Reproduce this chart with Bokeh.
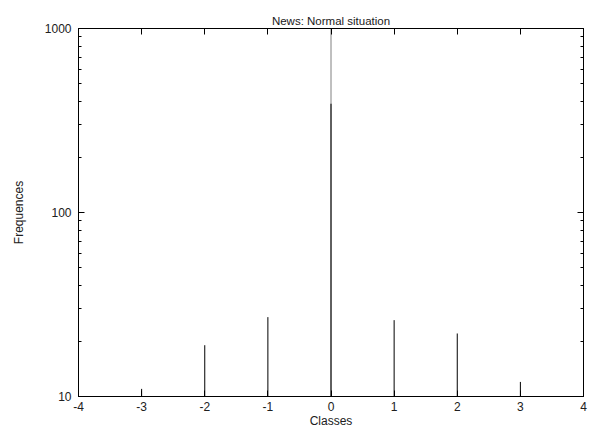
from bokeh.plotting import figure
from bokeh.models import FixedTicker, LinearAxis, LogAxis, Span
from bokeh.embed import file_html
from bokeh.resources import INLINE

classes = [-3, -2, -1, 0, 1, 2, 3]
frequences = [11, 19, 27, 390, 26, 22, 12]
x_ticks = [-4, -3, -2, -1, 0, 1, 2, 3, 4]
y_major = [10, 100, 1000]
y_minor = [m * 10 ** d for d in (1, 2) for m in range(2, 10)]

FONT = "Liberation Sans"
FS = "12px"

p = figure(width=590, height=433, output_backend="svg", toolbar_location=None,
           x_range=(-4, 4), y_range=(10, 1000), y_axis_type="log",
           title="News: Normal situation",
           min_border_left=78, min_border_right=7, min_border_top=28, min_border_bottom=37)

p.title.align = "center"
p.title.text_font = FONT
p.title.text_font_size = "11.5px"
p.title.text_font_style = "normal"
p.title.text_color = "#202020"
p.title.standoff = 4

p.grid.visible = False
p.outline_line_color = "black"
p.background_fill_color = "white"
p.border_fill_color = "white"

def style(ax, labels=True):
    ax.axis_line_color = "black"
    ax.axis_line_width = 1
    ax.major_tick_in = 6
    ax.major_tick_out = 0
    ax.minor_tick_in = 3
    ax.minor_tick_out = 0
    ax.major_tick_line_color = "black"
    ax.minor_tick_line_color = "black"
    ax.major_label_text_font = FONT
    ax.major_label_text_font_size = FS
    ax.major_label_text_color = "#202020" if labels else None
    ax.axis_label_text_font = FONT
    ax.axis_label_text_font_size = FS
    ax.axis_label_text_font_style = "normal"
    ax.axis_label_text_color = "#202020"

xt = FixedTicker(ticks=x_ticks, minor_ticks=[])
yt = FixedTicker(ticks=y_major, minor_ticks=y_minor)

p.xaxis.ticker = xt
p.yaxis.ticker = yt
p.xaxis.major_label_overrides = {v: str(v) for v in x_ticks}
p.yaxis.major_label_overrides = {v: str(v) for v in y_major}
p.xaxis.axis_label = "Classes"
p.yaxis.axis_label = "Frequences"
style(p.xaxis[0])
style(p.yaxis[0])
p.xaxis.major_label_standoff = 5
p.xaxis.axis_label_standoff = 0
p.yaxis.major_label_standoff = 7
p.yaxis.axis_label_standoff = 16

top = LinearAxis(ticker=FixedTicker(ticks=x_ticks, minor_ticks=[]))
style(top, labels=False)
top.major_label_overrides = {v: "" for v in x_ticks}
top.major_label_standoff = 4
p.add_layout(top, "above")

right = LogAxis(ticker=FixedTicker(ticks=y_major, minor_ticks=y_minor))
style(right, labels=False)
right.major_label_overrides = {v: "" for v in y_major}
right.major_label_standoff = 0
p.add_layout(right, "right")

zero = Span(location=0, dimension="height", line_color="black", line_width=1, line_dash="1 1")
p.add_layout(zero)

p.segment(x0=classes, y0=[10] * len(classes), x1=classes, y1=frequences,
          line_color="black", line_width=1)

open("out.html", "w").write(file_html(p, INLINE))
